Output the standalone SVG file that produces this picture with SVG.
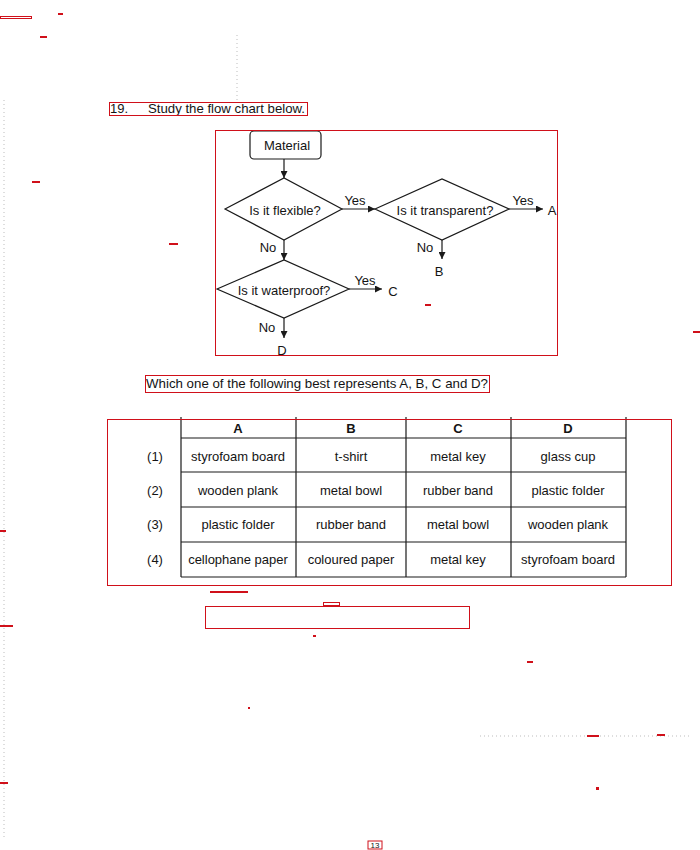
<svg xmlns="http://www.w3.org/2000/svg" width="700" height="850" viewBox="0 0 700 850">
<style>
  text { font-family: "Liberation Sans", Arial, sans-serif; font-size: 13px; fill: #141414; }
  .c { text-anchor: middle; }
  .b { font-weight: bold; }
  .shape { fill: #fff; stroke: #1a1a1a; stroke-width: 1.2; }
  .conn { stroke: #1a1a1a; stroke-width: 1.2; fill: none; marker-end: url(#ah); }
  .grid { stroke: #1a1a1a; stroke-width: 1.2; fill: none; }
  .ann { fill: none; stroke: #d0101a; stroke-width: 1; }
  .mark { stroke: #d0101a; stroke-width: 2; }
  .faint { stroke: #bdbdbd; stroke-width: 1; stroke-dasharray: 1 3; fill: none; }
</style>
<defs>
  <marker id="ah" viewBox="0 0 10 10" refX="10" refY="5" markerWidth="7" markerHeight="7" markerUnits="userSpaceOnUse" orient="auto">
    <path d="M0,0 L10,5 L0,10 z" fill="#1a1a1a"/>
  </marker>
</defs>
<rect x="0" y="0" width="700" height="850" fill="#fff"/>

<!-- scan artifacts -->
<g id="artifacts">
  <line class="faint" x1="237" y1="35" x2="237" y2="100"/>
  <line class="faint" x1="4" y1="100" x2="4" y2="840"/>
  <line class="faint" x1="480" y1="736" x2="690" y2="736"/>
</g>

<!-- title -->
<g id="title">
  <text x="110" y="113">19.</text>
  <text x="148" y="113" textLength="157" lengthAdjust="spacingAndGlyphs">Study the flow chart below.</text>
</g>

<!-- connectors -->
<g id="connectors">
  <line class="conn" x1="284" y1="159" x2="284" y2="178"/>
  <line class="conn" x1="342" y1="209" x2="375" y2="209"/>
  <line class="conn" x1="509" y1="209" x2="543" y2="209"/>
  <line class="conn" x1="442" y1="240" x2="442" y2="259"/>
  <line class="conn" x1="284" y1="240" x2="284" y2="260"/>
  <line class="conn" x1="349" y1="289" x2="382" y2="289"/>
  <line class="conn" x1="284" y1="318" x2="284" y2="338"/>
  <text class="c" x="355" y="205">Yes</text>
  <text class="c" x="523" y="205">Yes</text>
  <text class="c" x="425" y="252">No</text>
  <text class="c" x="268" y="252">No</text>
  <text class="c" x="365" y="285">Yes</text>
  <text class="c" x="267" y="332">No</text>
</g>

<!-- nodes -->
<g id="material">
  <rect class="shape" x="250" y="131" width="71" height="28" rx="4"/>
  <text class="c" x="287" y="150">Material</text>
</g>
<g id="flexible">
  <polygon class="shape" points="225,209 284,178 342,209 284,240"/>
  <text class="c" x="285" y="215">Is it flexible?</text>
</g>
<g id="transparent">
  <polygon class="shape" points="375,209 442,179 509,209 442,240"/>
  <text class="c" x="445" y="215">Is it transparent?</text>
</g>
<g id="waterproof">
  <polygon class="shape" points="217,289 284,260 349,289 284,318"/>
  <text class="c" x="284" y="295">Is it waterproof?</text>
</g>
<g id="outA"><text class="c" x="552" y="215">A</text></g>
<g id="outB"><text class="c" x="439" y="276">B</text></g>
<g id="outC"><text class="c" x="393" y="296">C</text></g>
<g id="outD"><text class="c" x="282" y="355">D</text></g>

<!-- question -->
<g id="question">
  <text x="146" y="388" textLength="342" lengthAdjust="spacingAndGlyphs">Which one of the following best represents A, B, C and D?</text>
</g>

<!-- table -->
<g id="table">
  <line class="grid" x1="181" y1="417" x2="181" y2="577"/>
  <line class="grid" x1="296" y1="417" x2="296" y2="577"/>
  <line class="grid" x1="406" y1="417" x2="406" y2="577"/>
  <line class="grid" x1="511" y1="417" x2="511" y2="577"/>
  <line class="grid" x1="626" y1="417" x2="626" y2="577"/>
  <line class="grid" x1="181" y1="438" x2="626" y2="438"/>
  <line class="grid" x1="181" y1="472" x2="626" y2="472"/>
  <line class="grid" x1="181" y1="507" x2="626" y2="507"/>
  <line class="grid" x1="181" y1="542" x2="626" y2="542"/>
  <line class="grid" x1="181" y1="577" x2="626" y2="577"/>

  <text class="c b" x="238" y="433">A</text>
  <text class="c b" x="351" y="433">B</text>
  <text class="c b" x="458" y="433">C</text>
  <text class="c b" x="568" y="433">D</text>

  <text class="c" x="155" y="461">(1)</text>
  <text class="c" x="238" y="461">styrofoam board</text>
  <text class="c" x="351" y="461">t-shirt</text>
  <text class="c" x="458" y="461">metal key</text>
  <text class="c" x="568" y="461">glass cup</text>

  <text class="c" x="155" y="495">(2)</text>
  <text class="c" x="238" y="495">wooden plank</text>
  <text class="c" x="351" y="495">metal bowl</text>
  <text class="c" x="458" y="495">rubber band</text>
  <text class="c" x="568" y="495">plastic folder</text>

  <text class="c" x="155" y="529">(3)</text>
  <text class="c" x="238" y="529">plastic folder</text>
  <text class="c" x="351" y="529">rubber band</text>
  <text class="c" x="458" y="529">metal bowl</text>
  <text class="c" x="568" y="529">wooden plank</text>

  <text class="c" x="155" y="564">(4)</text>
  <text class="c" x="238" y="564">cellophane paper</text>
  <text class="c" x="351" y="564">coloured paper</text>
  <text class="c" x="458" y="564">metal key</text>
  <text class="c" x="568" y="564">styrofoam board</text>
</g>

<!-- page number -->
<g id="page">
  <rect x="368" y="841" width="14" height="8" fill="none" stroke="#d0101a" stroke-width="1"/>
  <text class="c" x="375" y="848" style="font-size:8px">13</text>
</g>

<!-- red annotation overlay -->
<g id="annotations">
  <rect class="ann" x="0.5" y="16.5" width="31" height="2"/>
  <rect class="ann" x="109.5" y="102.5" width="198" height="13"/>
  <rect class="ann" x="215.5" y="130.5" width="342" height="225"/>
  <rect class="ann" x="145.5" y="375.5" width="344" height="17"/>
  <rect class="ann" x="107.5" y="419.5" width="564" height="166"/>
  <rect class="ann" x="205.5" y="606.5" width="264" height="22"/>
  <rect class="ann" x="323.5" y="602.5" width="16" height="3"/>
  <line class="mark" x1="58" y1="14" x2="63" y2="14"/>
  <line class="mark" x1="40" y1="37" x2="47" y2="37"/>
  <line class="mark" x1="32" y1="182" x2="40" y2="182"/>
  <line class="mark" x1="169" y1="244" x2="178" y2="244"/>
  <line class="mark" x1="425" y1="305" x2="431" y2="305"/>
  <line class="mark" x1="693" y1="332" x2="700" y2="332"/>
  <line class="mark" x1="0" y1="531" x2="6" y2="531"/>
  <line class="mark" x1="0" y1="626" x2="13" y2="626"/>
  <line class="mark" x1="0" y1="783" x2="8" y2="783"/>
  <line class="mark" x1="210" y1="592" x2="248" y2="592"/>
  <line class="mark" x1="313" y1="636" x2="316" y2="636"/>
  <line class="mark" x1="527" y1="662" x2="533" y2="662"/>
  <line class="mark" x1="587" y1="736" x2="599" y2="736"/>
  <line class="mark" x1="657" y1="735" x2="665" y2="735"/>
  <rect x="596" y="787" width="3" height="3" fill="#d0101a"/>
  <line class="mark" x1="248" y1="708" x2="250" y2="708"/>
</g>
</svg>
